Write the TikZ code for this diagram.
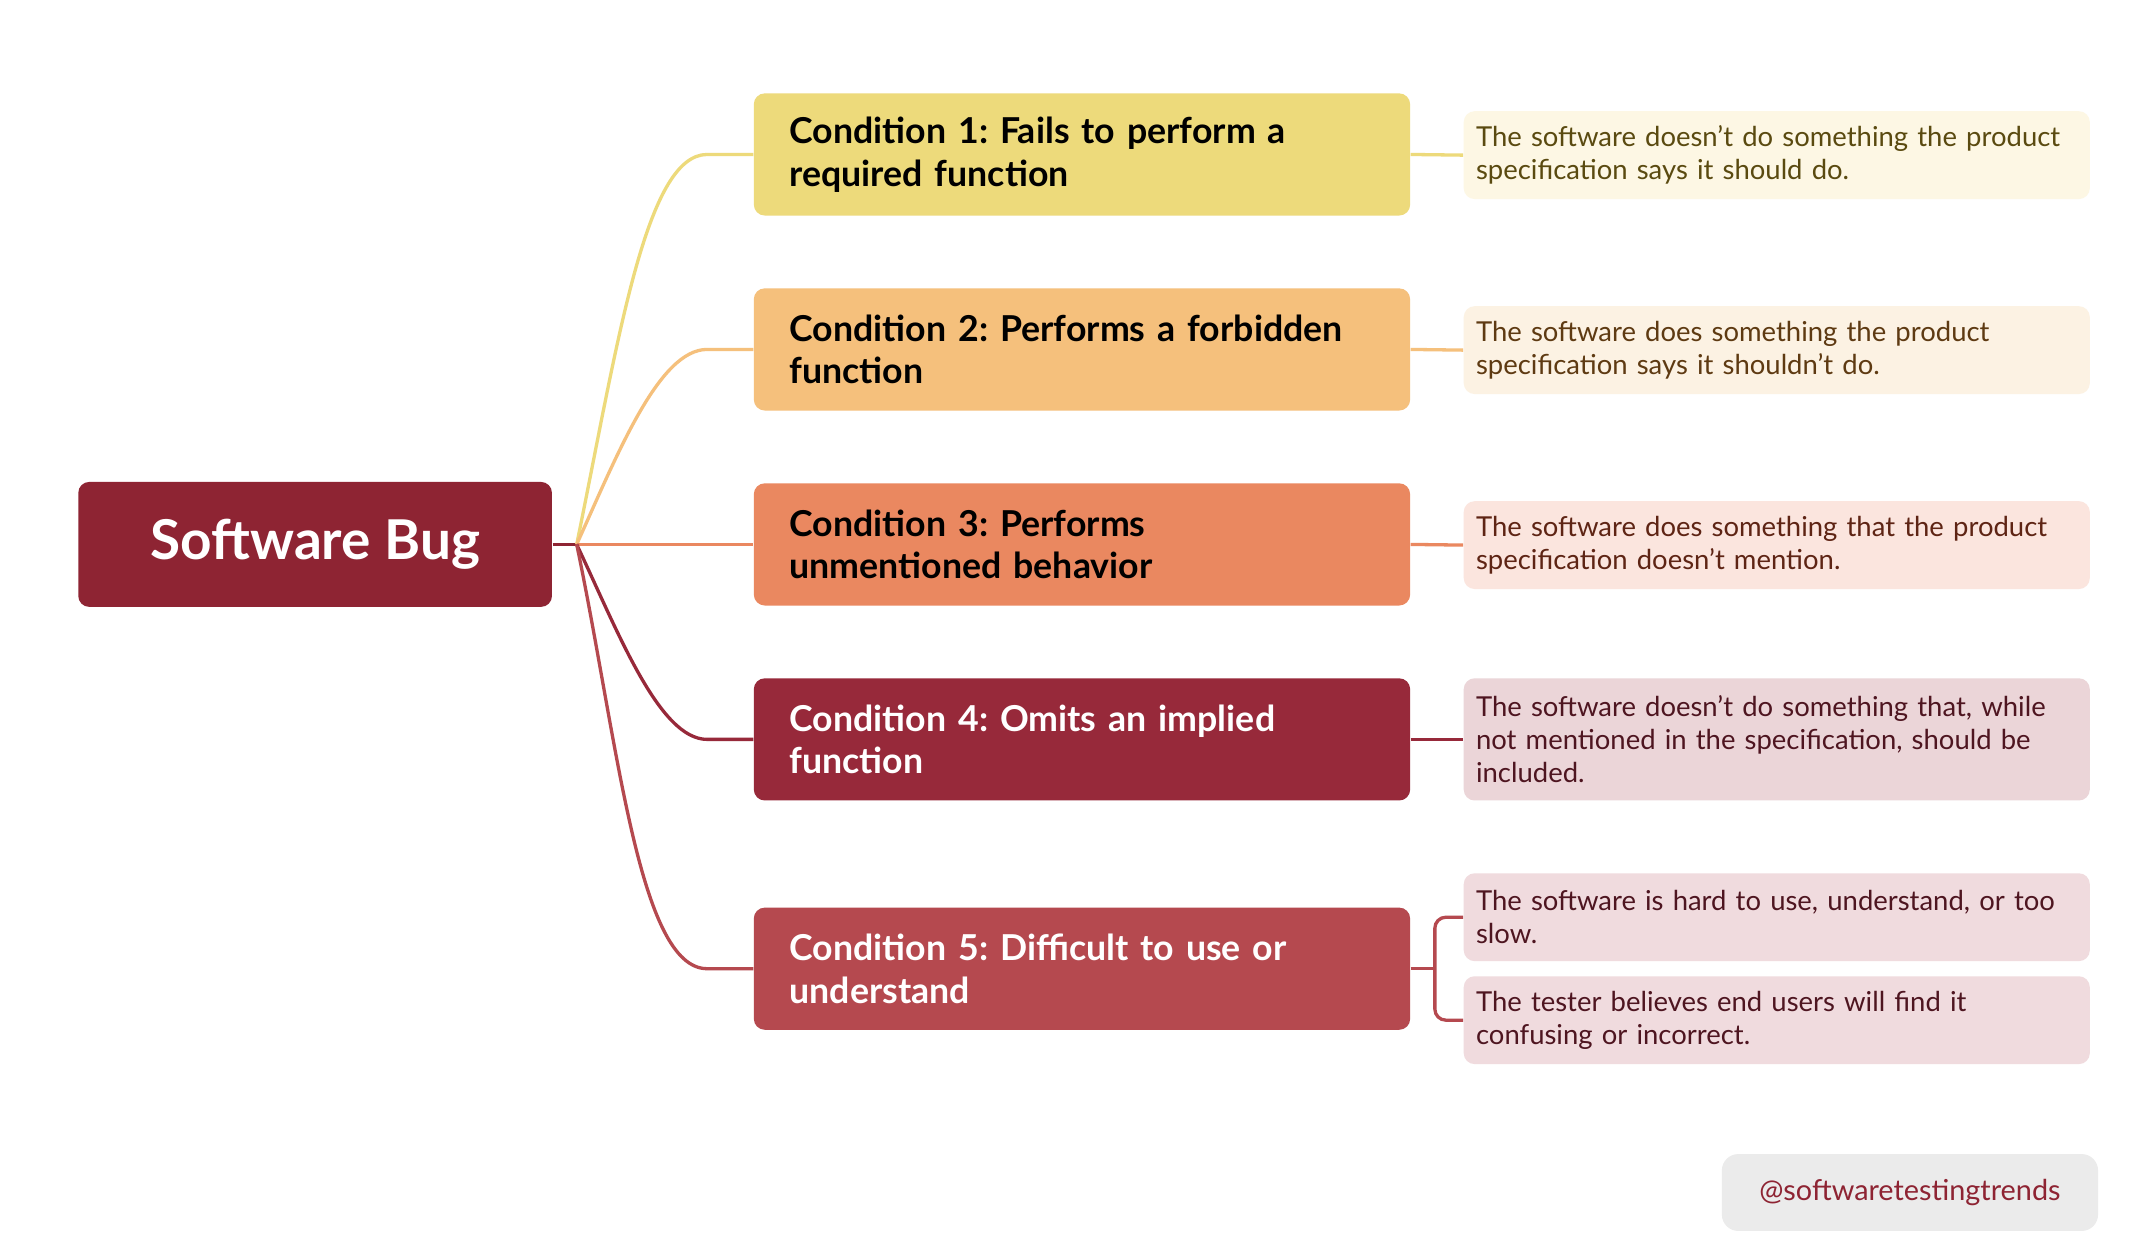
\documentclass[tikz,border=0pt]{standalone}
\usepackage{fontspec}
\setmainfont{Lato}
\frenchspacing
\definecolor{rootc}{HTML}{8E2433}
\definecolor{cA}{HTML}{EDDA7B}
\definecolor{cB}{HTML}{F5C07C}
\definecolor{cC}{HTML}{EA8860}
\definecolor{cD}{HTML}{97293A}
\definecolor{cE}{HTML}{B5494F}
\definecolor{dA}{HTML}{FDF7E4}
\definecolor{dB}{HTML}{FCF2E3}
\definecolor{dC}{HTML}{FBE5DE}
\definecolor{dD}{HTML}{EBD5D8}
\definecolor{dE}{HTML}{F0DBDE}
\definecolor{tA}{HTML}{5A4A10}
\definecolor{tB}{HTML}{5E3A12}
\definecolor{tC}{HTML}{5E2414}
\definecolor{tD}{HTML}{4E1520}
\tikzset{
  cond/.style={rounded corners=4pt, minimum width=239pt, minimum height=44.5pt,
    text width=213pt, align=left, font=\fontsize{13}{15.5}\selectfont\bfseries, inner sep=0pt},
  desc/.style={rounded corners=4pt, minimum width=228pt, minimum height=32pt,
    text width=219pt, align=left, font=\fontsize{10}{12}\selectfont, inner sep=0pt},
  link/.style={line width=1.2pt}
}
\begin{document}
\begin{tikzpicture}[x=0.5pt,y=-0.5pt]
  \useasboundingbox[fill=white] (0,0) rectangle (1560,913);

  % Nodo raiz
  \node[fill=rootc, rounded corners=4pt, minimum width=172.5pt, minimum height=45.5pt,
    text=white, font=\fontsize{20}{24}\selectfont\bfseries] (bug) at (229.5,396.5) {Software Bug};
  \coordinate (hub) at (420,396.5);

  % Condiciones
  \node[cond, fill=cA] (c1) at (788,112.5) {Condition 1: Fails to perform a\\required function};
  \node[cond, fill=cB] (c2) at (788,254.5) {Condition 2: Performs a forbidden\\function};
  \node[cond, fill=cC] (c3) at (788,396.5) {Condition 3: Performs\\unmentioned behavior};
  \node[cond, fill=cD, text=white] (c4) at (788,538.5) {Condition 4: Omits an implied\\function};
  \node[cond, fill=cE, text=white] (c5) at (788,705.5) {Condition 5: Difficult to use or\\understand};

  % Descripciones
  \node[desc, fill=dA, text=tA] (d1) at (1294,113) {The software doesn't do something the product\\specification says it should do.};
  \node[desc, fill=dB, text=tB] (d2) at (1294,255) {The software does something the product\\specification says it shouldn't do.};
  \node[desc, fill=dC, text=tC] (d3) at (1294,397) {The software does something that the product\\specification doesn't mention.};
  \node[desc, fill=dD, text=tD, minimum height=44.5pt] (d4) at (1294,538.5) {The software doesn't do something that, while\\not mentioned in the specification, should be\\included.};
  \node[desc, fill=dE, text=tD] (d5a) at (1294,668) {The software is hard to use, understand, or too\\slow.};
  \node[desc, fill=dE, text=tD] (d5b) at (1294,743) {The tester believes end users will find it\\confusing or incorrect.};

  % Lineas
  \draw[link, rootc] (bug.east) -- (hub);
  \draw[link, cA] (hub) .. controls (450,250) and (470,112.5) .. (515,112.5) -- (c1.west);
  \draw[link, cB] (hub) .. controls (450,330) and (480,254.5) .. (515,254.5) -- (c2.west);
  \draw[link, cC] (hub) -- (c3.west);
  \draw[link, cD] (hub) .. controls (450,460) and (480,538.5) .. (515,538.5) -- (c4.west);
  \draw[link, cE] (hub) .. controls (450,540) and (465,705.5) .. (515,705.5) -- (c5.west);
  \draw[link, cA] (c1.east) -- (d1.west);
  \draw[link, cB] (c2.east) -- (d2.west);
  \draw[link, cC] (c3.east) -- (d3.west);
  \draw[link, cD] (c4.east) -- (d4.west);
  \draw[link, cE] (c5.east) -- (1045,705.5);
  \draw[link, cE, rounded corners=4pt] (d5a.west) -| (1045,705.5) |- (d5b.west);

  % Marca
  \node[fill=black!8, rounded corners=6pt, minimum width=137pt, minimum height=28pt,
    text=rootc, font=\fontsize{10.5}{12}\selectfont] (tag) at (1391,868.5) {@softwaretestingtrends};
\end{tikzpicture}
\end{document}
